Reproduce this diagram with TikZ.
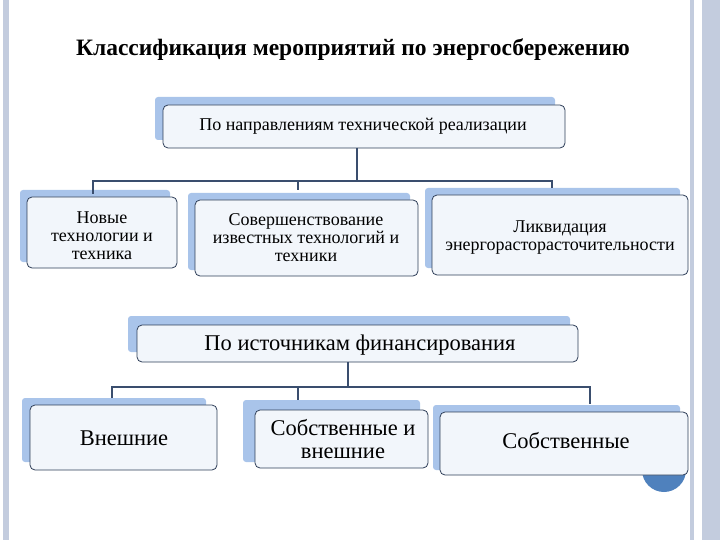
\documentclass[tikz,border=0pt]{standalone}
\usepackage{fontspec}
\setmainfont{Liberation Serif}
\definecolor{bk}{HTML}{A9C4EA}
\definecolor{fr}{HTML}{F2F6FB}
\definecolor{ln}{HTML}{2E3E58}
\definecolor{cn}{HTML}{3A4E6E}
\definecolor{st}{HTML}{C3CCDE}
\definecolor{ci}{HTML}{4F81BD}
\begin{document}
\begin{tikzpicture}[x=1pt,y=-1pt,
  back/.style={fill=bk, draw=none, rounded corners=3pt},
  front/.style={fill=fr, draw=ln, line width=0.8pt, rounded corners=5pt},
  lbl/.style={align=center, font=\fontsize{18}{18}\selectfont},
  big/.style={align=center, font=\fontsize{22.5}{23}\selectfont},
  conn/.style={draw=cn, line width=1.5pt}]
\useasboundingbox (0,0) rectangle (720,540);
\fill[st] (3,0) rectangle (9,540);
\fill[st] (690,0) rectangle (694,540);
\fill[st] (702,0) rectangle (720,540);
\node[font=\bfseries\fontsize{23.5}{24}\selectfont] (t) at (353,50) {Классификация мероприятий по энергосбережению};
% group 1
\fill[back] (155,97) rectangle (555,140);
\draw[front] (163,105) rectangle (565,148);
\node[lbl] (a) at (363,126) {По направлениям технической реализации};
\fill[back] (20,190) rectangle (170,262);
\draw[front] (27,197) rectangle (177,268);
\node[lbl] (a1) at (102,236) {Новые\\технологии и\\техника};
\fill[back] (188,193) rectangle (410,270);
\draw[front] (195,200) rectangle (418,276);
\node[lbl] (a2) at (306,238) {Совершенствование\\известных технологий и\\техники};
\fill[back] (425,188) rectangle (680,268);
\draw[front] (432,195) rectangle (688,275);
\node[lbl] (a3) at (560,238) {Ликвидация\\энергорасторасточительности};
\coordinate (h1) at (357,181);
\draw[conn] (357,148) -- (h1);
\draw[conn] (93,194) -- (93,181) -- (552,181) -- (552,188);
\draw[conn] (298,181) -- (298,190);
% group 2
\fill[back] (128,316) rectangle (570,352);
\draw[front] (137,325) rectangle (578,362);
\node[big] (b) at (360,345) {По источникам финансирования};
\fill[back] (22,398) rectangle (206,462);
\draw[front] (30,405) rectangle (217,470);
\node[big] (b1) at (124,438) {Внешние};
\fill[back] (243,400) rectangle (420,462);
\draw[front] (255,410) rectangle (428,468);
\node[big] (b2) at (343,439) {Собственные и\\внешние};
\fill[ci] (664,470) circle (22);
\fill[back] (433,405) rectangle (680,470);
\draw[front] (440,412) rectangle (688,475);
\node[big] (b3) at (566,441) {Собственные};
\draw[conn] (348,362) -- (348,387);
\draw[conn] (112,398) -- (112,387) -- (590,387) -- (590,404);
\draw[conn] (298,387) -- (298,400);
\end{tikzpicture}
\end{document}
